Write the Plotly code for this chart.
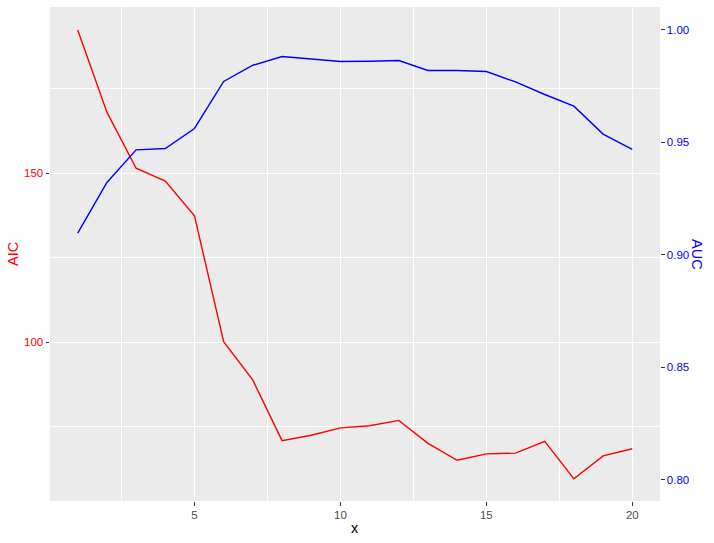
import plotly.graph_objects as go

x = list(range(1, 21))
aic = [192.4, 168.1, 151.5, 147.7, 137.4, 100.2, 88.8, 70.9, 72.5, 74.7,
       75.3, 76.9, 70.1, 65.1, 67.0, 67.2, 70.7, 59.6, 66.4, 68.5]
auc = [0.9096, 0.9321, 0.9466, 0.9472, 0.9561, 0.9770, 0.9842, 0.9881, 0.9870, 0.9859,
       0.9860, 0.9863, 0.9819, 0.9819, 0.9814, 0.9768, 0.9712, 0.9660, 0.9536, 0.9468]

FONT = "Liberation Sans, Arial, sans-serif"

fig = go.Figure()
fig.add_trace(go.Scatter(x=x, y=aic, mode="lines", line=dict(color="red", width=1.4),
                         yaxis="y", showlegend=False))
fig.add_trace(go.Scatter(x=x, y=auc, mode="lines", line=dict(color="blue", width=1.4),
                         yaxis="y2", showlegend=False))

fig.update_layout(
    width=714, height=543,
    margin=dict(l=50, r=54, t=7, b=42, autoexpand=False),
    paper_bgcolor="white", plot_bgcolor="#EBEBEB",
    font=dict(family=FONT),
    xaxis=dict(range=[0.05, 20.95], tick0=0, dtick=5, showgrid=True, gridcolor="white",
               gridwidth=1.1, zeroline=False, ticks="outside", ticklen=3.5, tickwidth=1,
               tickcolor="#333333", tickfont=dict(size=11.5, color="#4D4D4D", family=FONT),
               minor=dict(dtick=2.5, tick0=0, showgrid=True, gridcolor="white", gridwidth=0.55),
               showline=False, automargin=False),
    yaxis=dict(range=[53.05, 199.2], tick0=0, dtick=50, showgrid=True, gridcolor="white",
               gridwidth=1.1, zeroline=False, ticks="outside", ticklen=3.5, tickwidth=1,
               tickcolor="#333333", tickfont=dict(size=11.5, color="red", family=FONT),
               minor=dict(dtick=25, tick0=0, showgrid=True, gridcolor="white", gridwidth=0.55),
               showline=False, automargin=False),
    yaxis2=dict(range=[0.7905, 1.0101], overlaying="y", side="right", tick0=0.8, dtick=0.05,
                tickformat=".2f", showgrid=False, zeroline=False, ticks="outside", ticklen=3.5,
                tickwidth=1, tickcolor="#333333",
                tickfont=dict(size=11.5, color="blue", family=FONT), showline=False,
                automargin=False),
    annotations=[
        dict(text="x", xref="paper", yref="paper", x=0.5, y=0, yshift=-27,
             showarrow=False, font=dict(size=14.5, color="black", family=FONT),
             xanchor="center", yanchor="middle"),
        dict(text="AIC", xref="paper", x=0, xshift=-37, yref="paper", y=0.5,
             showarrow=False, textangle=-90, font=dict(size=14.5, color="red", family=FONT),
             xanchor="center", yanchor="middle"),
        dict(text="AUC", xref="paper", x=1, xshift=37, yref="paper", y=0.5,
             showarrow=False, textangle=90, font=dict(size=14.5, color="blue", family=FONT),
             xanchor="center", yanchor="middle"),
    ],
)

fig.write_html("out.html", config={"displayModeBar": False},
               post_script="document.body.style.margin='0';")
